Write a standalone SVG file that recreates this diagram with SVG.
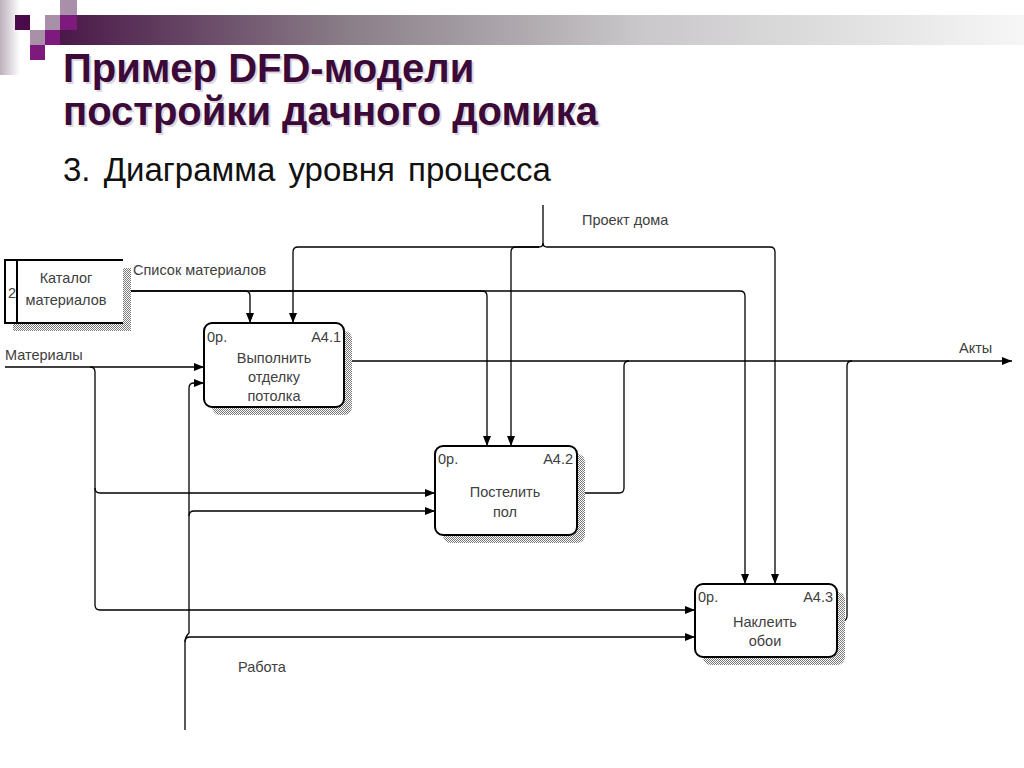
<svg xmlns="http://www.w3.org/2000/svg" width="1024" height="768" viewBox="0 0 1024 768">
<defs>
  <linearGradient id="bar" x1="0" y1="0" x2="1" y2="0">
    <stop offset="0" stop-color="#4a1848"/>
    <stop offset="0.3" stop-color="#8a7e88"/>
    <stop offset="0.6" stop-color="#c9c7c9"/>
    <stop offset="1" stop-color="#f6f6f6"/>
  </linearGradient>
  <linearGradient id="edge" x1="0" y1="0" x2="1" y2="0">
    <stop offset="0" stop-color="#bcb0bc"/>
    <stop offset="1" stop-color="#ffffff"/>
  </linearGradient>
  <pattern id="hatch" width="2" height="2" patternUnits="userSpaceOnUse">
    <rect width="2" height="2" fill="#ffffff"/>
    <rect width="1" height="1" fill="#777777"/>
    <rect x="1" y="1" width="1" height="1" fill="#777777"/>
  </pattern>
  <marker id="arr" markerUnits="userSpaceOnUse" markerWidth="12" markerHeight="10" refX="10" refY="4" orient="auto">
    <path d="M0,0 L10,4 L0,8 Z" fill="#000"/>
  </marker>
  <style>
    .title{font-family:"Liberation Sans",Arial,sans-serif;font-weight:bold;font-size:40px;fill:#3b0a38}
    .tshadow{font-family:"Liberation Sans",Arial,sans-serif;font-weight:bold;font-size:40px;fill:#ddd6dd}
    .sub{font-family:"Liberation Sans",Arial,sans-serif;font-size:33px;fill:#111;word-spacing:4px}
    .lbl{font-family:"Liberation Sans",Arial,sans-serif;font-size:14.5px;fill:#404040}
    .btxt{font-family:"Liberation Sans",Arial,sans-serif;font-size:14.5px;fill:#404040;text-anchor:middle}
    .corner{font-family:"Liberation Sans",Arial,sans-serif;font-size:14.5px;fill:#404040}
    .box{fill:#fff;stroke:#000;stroke-width:2}
    .shadow{fill:url(#hatch)}
    .con path{fill:none;stroke:#000;stroke-width:1.3}
    .ar{marker-end:url(#arr)}
  </style>
</defs>
<rect width="1024" height="768" fill="#fff"/>

<g id="decoration">
  <rect x="0" y="0" width="20" height="75" fill="url(#edge)"/>
  <rect x="60" y="15" width="964" height="30" fill="url(#bar)"/>
  <rect x="15" y="15" width="15" height="15" fill="#4b0a4b"/>
  <rect x="45" y="15" width="15" height="15" fill="#a891a8"/>
  <rect x="60" y="0" width="17" height="15" fill="#a891a8"/>
  <rect x="60" y="15" width="17" height="15" fill="#7e1a7e"/>
  <rect x="30" y="30" width="15" height="15" fill="#a891a8"/>
  <rect x="45" y="30" width="15" height="15" fill="#7e1a7e"/>
  <rect x="30" y="45" width="15" height="15" fill="#7e1a7e"/>
</g>

<g id="title">
  <text class="tshadow" x="65" y="84">Пример DFD-модели</text>
  <text class="title" x="63" y="82">Пример DFD-модели</text>
  <text class="tshadow" x="65" y="127">постройки дачного домика</text>
  <text class="title" x="63" y="125">постройки дачного домика</text>
  <text class="sub" x="63" y="181">3. Диаграмма уровня процесса</text>
</g>

<g id="connectors" class="con">
  <!-- Проект дома -->
  <path d="M543,205 V243 Q543,247 539,247 H298 Q293,247 293,252 V323" class="ar"/>
  <path d="M543,243 Q543,247 547,247 H770 Q775,247 775,252 V584" class="ar"/>
  <path d="M539,247 H516 Q511,247 511,252 V446" class="ar"/>
  <!-- Список материалов -->
  <path d="M123,291 H740 Q745,291 745,296 V584" class="ar"/>
  <path d="M123,291 H245 Q250,291 250,296 V323" class="ar"/>
  <path d="M250,291 H482 Q487,291 487,296 V446" class="ar"/>
  <!-- Материалы -->
  <path d="M5,367 H204" class="ar"/>
  <path d="M90,367 Q95,367 95,372 V488 Q95,493 100,493 H435" class="ar"/>
  <path d="M95,488 V605 Q95,610 100,610 H695" class="ar"/>
  <!-- Работа -->
  <path d="M185,730 V642 Q185,637 190,637 H695" class="ar"/>
  <path d="M185,642 Q185,637 189,633 V388 Q189,383 194,383 H204" class="ar"/>
  <path d="M189,516 Q189,511 194,511 H435" class="ar"/>
  <!-- Акты -->
  <path d="M344,361 H1012" class="ar"/>
  <path d="M577,493 H619 Q624,493 624,488 V366 Q624,361 629,361"/>
  <path d="M837,621 H842 Q847,621 847,616 V366 Q847,361 852,361"/>
</g>

<g id="labels">
  <text class="lbl" x="133" y="275">Список материалов</text>
  <text class="lbl" x="5" y="360">Материалы</text>
  <text class="lbl" x="582" y="225">Проект дома</text>
  <text class="lbl" x="959" y="353">Акты</text>
  <text class="lbl" x="238" y="672">Работа</text>
</g>

<g id="store2">
  <rect class="shadow" x="13" y="268" width="118" height="63"/>
  <rect x="5" y="260" width="118" height="63" fill="#fff"/>
  <path d="M123,260 H5 V323 H123 M17,260 V323" fill="none" stroke="#000" stroke-width="2"/>
  <text class="lbl" x="8" y="298">2</text>
  <text class="btxt" x="66" y="283">Каталог</text>
  <text class="btxt" x="66" y="305">материалов</text>
</g>

<g id="A4.1">
  <rect class="shadow" x="212" y="331" width="140" height="84" rx="8"/>
  <rect class="box" x="204" y="323" width="140" height="84" rx="8"/>
  <text class="corner" x="207" y="342">0р.</text>
  <text class="corner" x="341" y="342" text-anchor="end">A4.1</text>
  <text class="btxt" x="274" y="363">Выполнить</text>
  <text class="btxt" x="274" y="382">отделку</text>
  <text class="btxt" x="274" y="401">потолка</text>
</g>

<g id="A4.2">
  <rect class="shadow" x="443" y="454" width="142" height="89" rx="8"/>
  <rect class="box" x="435" y="446" width="142" height="89" rx="8"/>
  <text class="corner" x="438" y="464">0р.</text>
  <text class="corner" x="573" y="464" text-anchor="end">A4.2</text>
  <text class="btxt" x="505" y="497">Постелить</text>
  <text class="btxt" x="505" y="517">пол</text>
</g>

<g id="A4.3">
  <rect class="shadow" x="703" y="592" width="142" height="73" rx="8"/>
  <rect class="box" x="695" y="584" width="142" height="73" rx="8"/>
  <text class="corner" x="698" y="602">0р.</text>
  <text class="corner" x="833" y="602" text-anchor="end">A4.3</text>
  <text class="btxt" x="765" y="627">Наклеить</text>
  <text class="btxt" x="765" y="646">обои</text>
</g>
</svg>
